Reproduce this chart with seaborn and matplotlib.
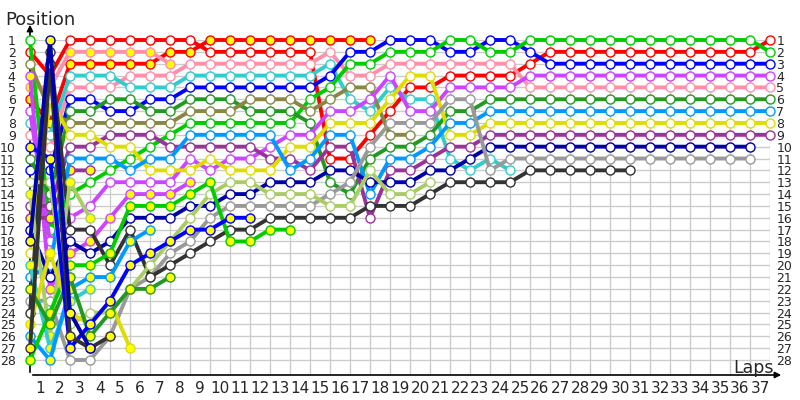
import matplotlib
matplotlib.use("Agg")
import matplotlib.pyplot as plt
import pandas as pd
import seaborn as sns

# ---------------- data (position per lap, lap 0 = grid) ----------------
positions = list(range(1, 29))
lap_labels = [str(i) for i in range(1, 38)]

red_w = [2,4,1,1,1,1,1,1,1,2,2,2,2,2,2,11,11,9,7,5,5,4,4,4,4,3,2,2,2,2,2,2,2,2,2,2,2,1]
red_y = [6,8,3,3,3,3,3,2,2,1,1,1,1,1,1,1,1,1]
pink_y = [5,5,2,2,2,2,2,3]
pink_w = [9,10,5,5,5,4,4,4,3,3,3,3,3,3,3,2,4,4,3,3,3,3,3,3,3,5,5,5,5,5,5,5,5,5,5,5,5,5]
teal_w = [8,9,4,4,4,5,5,5,4,4,4,4,4,4,4,3,6,7,5,6,6,11,12,11,12]
blue_w = [12,12,6,6,7,7,6,6,5,5,5,5,5,5,5,4,2,2,1,1,1,2,2,1,1,2,3,3,3,3,3,3,3,3,3,3,3,3]
green_w = [1,17,14,13,12,11,10,9,8,8,8,8,8,8,6,5,3,3,2,2,2,1,1,2,2,1,1,1,1,1,1,1,1,1,1,1,1,2]
dkgreen_w = [11,14,7,7,6,6,7,7,6,6,6,7,7,7,8,13,14,11,10,10,9,7,7,6,6,6,6,6,6,6,6,6,6,6,6,6,6,6]
olive_w = [3,7,8,8,8,8,8,8,7,7,7,6,6,6,7,6,5,5,9,9]
violet_w = [7,18,16,15,13,13,13,13,11,12,11,11,10,9,9,7,7,6,4,7,7,5,5,5,5,4,4,4,4,4,4,4,4,4,4,4,4,4]
violet_y = [4,22,19,18,16,14,14,14,13]
purple_w = [15,15,10,10,9,9,9,10,10,10,10,10,11,11,12,10,10,16,12,12,11,10,10,9,9,9,9,9,9,9,9,9,9,9,9,9,9,9]
purple_y = [16,16,12,12]
yellow_w = [19,6,9,9,10,10,12,12,12,11,12,12,12,10,10,8,8,8,6,4,4,9,9,8,8,8,8,8,8,8,8,8,8,8,8,8,8,8]
skyblue_w = [21,20,11,11,11,12,11,11,9,9,9,9,9,12,11,9,9,14,11,11,10,8,8,7,7,7,7,7,7,7,7,7,7,7,7,7,7,7]
navy_w = [17,21,18,19,18,16,16,16,15,15,14,14,13,13,13,12,12,13,13,13,12,12,11,10,10,10,10,10,10,10,10,10,10,10,10,10,10]
gray_w = [23,23,28,28,26,22,21,19,18,16,15,15,15,15,15,14,13,10,8,8,8,6,6,12,11,11,11,11,11,11,11,11,11,11,11,11,11]
dkgray_w = [24,2,17,17,20,17,21,20,19,18,17,17,16,16,16,16,16,15,15,15,14,13,13,13,13,12,12,12,12,12,12]
ltgreen_w = [13,13,25,24,24,22,20,18,16,14,13,13,14,14,14,15,15,12,14,14,13]
ltgreen_y = [14,26,13,16]
navy_y = [18,1,24,27]
blue_y = [10,11,27,25,23,20,19,18,17,17,16,16]
dkgray_y = [27,3,26,27,26]
teal_y = [20,27,23,22]
skyblue_y = [26,28,22,21,21,18,17]
green_y = [28,24,20,20,19,15,15,15,14,13,18,18,17,17]
yellow_y = [25,19,24,25,23,27]
dkgreen_y = [22,25,21,26,24,22,22,21]

series = {
    "red_w": red_w, "red_y": red_y, "pink_y": pink_y, "pink_w": pink_w,
    "teal_w": teal_w, "blue_w": blue_w, "green_w": green_w, "dkgreen_w": dkgreen_w,
    "olive_w": olive_w, "violet_w": violet_w, "violet_y": violet_y,
    "purple_w": purple_w, "purple_y": purple_y, "yellow_w": yellow_w,
    "skyblue_w": skyblue_w, "navy_w": navy_w, "gray_w": gray_w,
    "dkgray_w": dkgray_w, "ltgreen_w": ltgreen_w, "ltgreen_y": ltgreen_y,
    "teal_y": teal_y, "skyblue_y": skyblue_y, "green_y": green_y,
    "yellow_y": yellow_y, "dkgreen_y": dkgreen_y, "blue_y": blue_y,
    "dkgray_y": dkgray_y, "navy_y": navy_y,
}

# ---------------- styles ----------------
team_colors = {
    "red": "#ff0000", "pink": "#ff8fab", "teal": "#33cccc", "blue": "#0000ff",
    "green": "#00cc00", "dkgreen": "#229922", "olive": "#888844", "violet": "#cc44ff",
    "purple": "#993399", "yellow": "#dddd00", "skyblue": "#0099ff", "navy": "#0000aa",
    "gray": "#999999", "dkgray": "#333333", "ltgreen": "#aacc66",
}
fills = {"w": "#ffffff", "y": "#ffff00"}

rows = []
for name, vals in series.items():
    for lap, p in enumerate(vals):
        rows.append({"driver": name, "lap": lap, "pos": p})
df = pd.DataFrame(rows)

sns.set_style("white")
plt.rcParams["font.family"] = ["DejaVu Sans"]

fig = plt.figure(figsize=(8, 4), dpi=100)
ax = fig.add_axes([30 / 800, 25 / 400, 740 / 800, 335 / 400])

for name in series:
    team, f = name.rsplit("_", 1)
    c = team_colors[team]
    sub = df[df["driver"] == name]
    sns.lineplot(data=sub, x="lap", y="pos", ax=ax, color=c, linewidth=2.8,
                 marker="o", markersize=6.5, markerfacecolor=fills[f],
                 markeredgecolor=c, markeredgewidth=1.0, estimator=None,
                 errorbar=None, legend=False, clip_on=False,
                 solid_joinstyle="miter")

ax.set_xlim(0, 37)
ax.set_ylim(1 + 335 * 27 / 320, 1)
ax.set_xticks(range(1, 38))
ax.set_xticklabels([])
ax.set_xticks([i - 0.5 for i in range(1, 38)], minor=True)
ax.set_xticklabels(lap_labels, minor=True, fontsize=11)
ax.set_yticks(positions)
ax.set_yticklabels([str(p) for p in positions], fontsize=9)
ax.tick_params(axis="x", which="both", length=0, pad=4)
ax.tick_params(axis="y", which="both", length=0, labelright=True)
ax.tick_params(axis="y", which="both", pad=4.5)
for lbl in ax.get_yticklabels():
    pass
ax.yaxis.set_tick_params(which="major", pad=4.5)
# left labels a bit further away from the axis line
for t in ax.yaxis.get_major_ticks():
    t.set_pad(4.5)
    t.label1.set_x(-8 / 740)
ax.grid(True, which="major", color="#cccccc", linewidth=1)
ax.set_axisbelow(True)
for s in ax.spines.values():
    s.set_visible(False)
ax.set_xlabel("")
ax.set_ylabel("")

# axes with arrows
ax.annotate("", xy=(30, 400 - 22), xycoords="figure pixels", xytext=(30, 400 - 375),
            textcoords="figure pixels",
            arrowprops=dict(arrowstyle="-|>", color="black", lw=1.2, mutation_scale=9),
            annotation_clip=False, zorder=1)
ax.annotate("", xy=(784, 400 - 375), xycoords="figure pixels", xytext=(30, 400 - 375),
            textcoords="figure pixels",
            arrowprops=dict(arrowstyle="-|>", color="black", lw=1.2, mutation_scale=9),
            annotation_clip=False, zorder=1)

fig.text(5 / 800, 1 - 25 / 400, "Position", fontsize=13, va="baseline", ha="left")
fig.text(733 / 800, 1 - 373 / 400, "Laps", fontsize=12.5, va="baseline", ha="left")

fig.savefig("out.png", dpi=100)
